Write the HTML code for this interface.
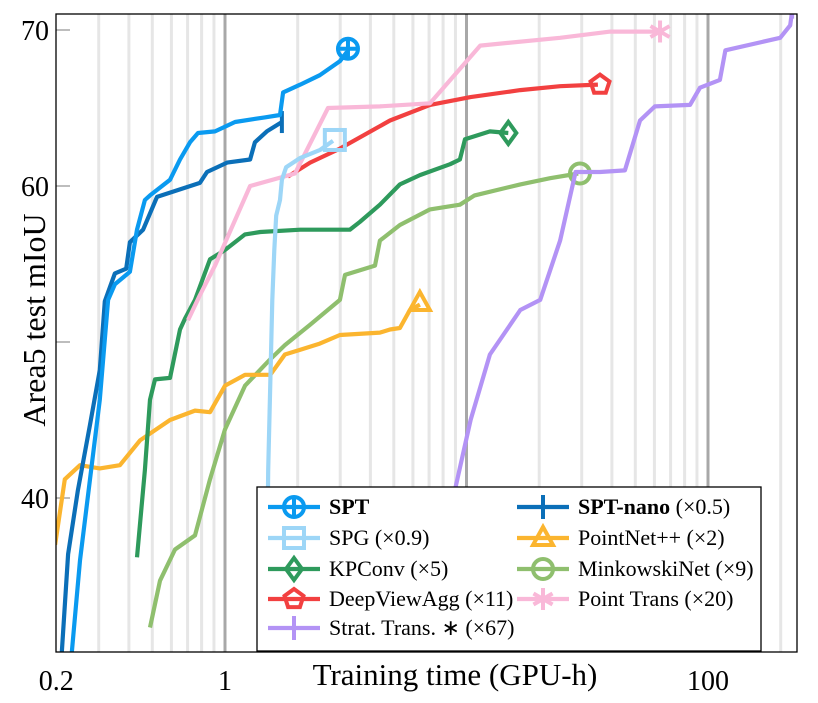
<!DOCTYPE html>
<html><head><meta charset="utf-8"><style>
html,body{margin:0;padding:0;background:#fff;}
svg{display:block;font-family:"Liberation Serif",serif;}
</style></head><body>
<svg id="chart" width="818" height="703" viewBox="0 0 818 703" xmlns="http://www.w3.org/2000/svg">
<defs><clipPath id="plotclip"><rect x="56" y="14" width="741" height="638"/></clipPath></defs>
<g id="grid"></g>
<g id="series" clip-path="url(#plotclip)"></g>
<rect x="56" y="14" width="741" height="638" fill="none" stroke="#000" stroke-width="1.3"/>
<g id="ticks"></g>
<text x="455" y="685" font-size="31" text-anchor="middle">Training time (GPU-h)</text>
<text transform="translate(45,320) rotate(-90)" font-size="32" text-anchor="middle">Area5 test mIoU</text>
<g id="legend"></g>
</svg>
<script>
const xTicks=[0.2,1,100];
const xTickLabels=["0.2","1","100"];
const yTicks=[70,60,40];
const yTickLabels=["70","60","40"];
const seriesNames=["SPT","SPT-nano","SPG","KPConv","DeepViewAgg","PointNet++","MinkowskiNet","Point Trans","Strat. Trans."];
const sptX=[0.232,0.251,0.276,0.303,0.328,0.350,0.404,0.432,0.466,0.489,0.592,0.651,0.716,0.773,0.909,1.10,1.46,1.69,1.74,2.05,2.47,2.99,3.20];
const sptY=[30.1,36.0,41.2,46.3,52.7,53.7,54.5,57.2,59.1,59.4,60.4,61.7,62.8,63.4,63.5,64.1,64.4,64.55,66.0,66.5,67.1,68.0,68.6];
const nanoX=[0.211,0.224,0.246,0.276,0.303,0.318,0.350,0.390,0.404,0.458,0.523,0.787,0.842,1.02,1.27,1.33,1.49,1.72];
const nanoY=[30.1,36.4,40.5,44.7,48.2,52.6,54.4,54.7,56.4,57.2,59.3,60.2,60.9,61.5,61.7,62.8,63.5,64.1];
const spgX=[1.48,1.51,1.57,1.60,1.63,1.69,1.72,1.79,2.05,2.47,2.80];
const spgY=[30.1,41.8,52.7,55.9,58.1,59.1,60.4,61.2,61.8,62.3,62.9];
const kpX=[0.432,0.466,0.489,0.513,0.592,0.651,0.683,0.751,0.867,1,1.21,1.40,2.05,3.29,3.62,4.38,5.30,6.41,8.55,9.39,9.86,12.5,14.9];
const kpY=[36.2,41.8,46.3,47.6,47.7,50.8,51.5,52.7,55.3,55.9,56.9,57.05,57.2,57.2,57.7,58.8,60.1,60.7,61.4,61.7,63.0,63.5,63.4];
const dvaX=[1.82,2.25,2.99,4.82,7.06,10.4,16.7,24.4,35.0];
const dvaY=[60.6,61.5,62.4,64.2,65.2,65.7,66.15,66.4,66.5];
const pnX=[0.198,0.217,0.251,0.303,0.367,0.445,0.592,0.751,0.867,1,1.21,1.54,1.77,2.05,2.47,2.99,4.38,4.82,5.30,5.83,6.41];
const pnY=[37.0,41.2,42.1,41.9,42.1,43.7,45.0,45.6,45.5,47.2,47.9,47.9,49.2,49.5,49.9,50.45,50.6,50.8,50.9,52.05,52.4];
const mkX=[0.489,0.538,0.621,0.751,0.867,1,1.21,1.54,1.77,2.25,2.99,3.14,4.18,4.38,5.30,7.06,9.39,10.8,16.7,22.2,29.0];
const mkY=[31.7,34.7,36.7,37.6,41.2,44.4,47.2,48.9,49.8,51.1,52.7,54.3,54.9,56.5,57.5,58.5,58.8,59.4,60.1,60.5,60.8];
const ptX=[0.703,0.787,0.909,1.27,1.95,2.67,4.38,7.06,11.4,24.4,39.4,63.3];
const ptY=[51.4,53.0,54.9,60.0,60.8,65.0,65.1,65.3,69.0,69.5,69.9,69.9];
const stX=[7.76,8.95,10.4,12.5,16.7,20.2,24.4,28.3,35.7,45.3,52.3,60.3,84.2,92.7,112,118,199,219,223];
const stY=[30.1,40.5,45.0,49.2,52.05,52.7,56.5,60.9,60.9,61.0,64.2,65.1,65.2,66.3,66.8,68.7,69.5,70.3,71.2];

const NS="http://www.w3.org/2000/svg";
const X0=225, DEC=241.5;
const sx=v=>X0+Math.log10(v)*DEC;
const sy=v=>30+(70-v)*15.6;
function mk(t,a,p){const e=document.createElementNS(NS,t);for(const k in a)e.setAttribute(k,a[k]);p.appendChild(e);return e;}

const grid=document.getElementById('grid');
for(let d=-1;d<=2;d++){for(let m=1;m<=9;m++){const v=m*Math.pow(10,d);const x=sx(v);if(x<57||x>796)continue;
 const major=m===1;
 const l=mk('line',{x1:x,x2:x,y1:14,y2:652,stroke:major?'#a8a8a8':'#e6e6e6','stroke-width':3},grid);
 
 }}
[70,60,50,40].forEach(v=>{const t=mk('line',{x1:56,x2:70,y1:sy(v),y2:sy(v),stroke:'#999','stroke-width':1.3},grid);
 
 });

const ticks=document.getElementById('ticks');
xTicks.forEach((v,i)=>{const t=mk('text',{x:sx(v),y:690,'font-size':28,'text-anchor':'middle'},ticks);t.textContent=xTickLabels[i];
 
 });
yTicks.forEach((v,i)=>{const t=mk('text',{x:49,y:sy(v)+10,'font-size':28,'text-anchor':'end'},ticks);t.textContent=yTickLabels[i];
 
 });

function marker(g,type,cx,cy,c){
 if(type==='oplus'){mk('circle',{cx,cy,r:10,fill:'none',stroke:c,'stroke-width':4},g);mk('path',{d:`M${cx-10} ${cy}H${cx+10}M${cx} ${cy-10}V${cy+10}`,stroke:c,'stroke-width':4},g);}
 if(type==='plus'){mk('path',{d:`M${cx-11} ${cy}H${cx+11}M${cx} ${cy-12}V${cy+12}`,stroke:c,'stroke-width':4},g);}
 if(type==='vbar'){mk('path',{d:`M${cx} ${cy-11}V${cy+11}`,stroke:c,'stroke-width':4},g);}
 if(type==='square'){mk('rect',{x:cx-10,y:cy-10,width:20,height:20,fill:'none',stroke:c,'stroke-width':4},g);}
 if(type==='diamond'){mk('path',{d:`M${cx} ${cy-11}L${cx+8} ${cy}L${cx} ${cy+11}L${cx-8} ${cy}Z`,fill:'none',stroke:c,'stroke-width':4},g);}
 if(type==='pent'){const p=[];for(let i=0;i<5;i++){const a=-Math.PI/2+i*2*Math.PI/5;p.push((cx+10*Math.cos(a)).toFixed(1)+','+(cy+10*Math.sin(a)).toFixed(1));}mk('polygon',{points:p.join(' '),fill:'none',stroke:c,'stroke-width':4},g);}
 if(type==='tri'){mk('polygon',{points:`${cx},${cy-11} ${cx+10},${cy+7} ${cx-10},${cy+7}`,fill:'none',stroke:c,'stroke-width':4},g);}
 if(type==='circle'){mk('circle',{cx,cy,r:10,fill:'none',stroke:c,'stroke-width':4},g);}
 if(type==='star'){let d='';for(let i=0;i<3;i++){const a=Math.PI/2+i*Math.PI/3;d+=`M${cx-11*Math.cos(a)} ${cy-11*Math.sin(a)}L${cx+11*Math.cos(a)} ${cy+11*Math.sin(a)}`;}mk('path',{d,stroke:c,'stroke-width':4},g);}
}
const defs=[
 {n:'spt',xs:sptX,ys:sptY,c:'#0a9af0',m:'oplus',mx:3.23,my:68.8},
 {n:'spt-nano',xs:nanoX,ys:nanoY,c:'#0b6fb8',m:'vbar',lm:'plus',mx:1.72,my:64.1},
 {n:'spg',xs:spgX,ys:spgY,c:'#9dd6f7',m:'square',mx:2.85,my:62.95},
 {n:'kpconv',xs:kpX,ys:kpY,c:'#2e9a5c',m:'diamond',mx:14.9,my:63.4},
 {n:'deepviewagg',xs:dvaX,ys:dvaY,c:'#f24040',m:'pent',mx:35.7,my:66.5},
 {n:'pointnet',xs:pnX,ys:pnY,c:'#fbb52f',m:'tri',mx:6.41,my:52.5},
 {n:'minkowskinet',xs:mkX,ys:mkY,c:'#8fbf6e',m:'circle',mx:29.5,my:60.8},
 {n:'point-trans',xs:ptX,ys:ptY,c:'#f9b8d8',m:'star',mx:63.3,my:69.9},
 {n:'strat-trans',xs:stX,ys:stY,c:'#b393f5',m:'plus',mx:223,my:71.5}
];
const order=[6,5,4,3,7,8,2,1,0];
const sg=document.getElementById('series');
order.forEach(i=>{const s=defs[i];
 const g=mk('g',{},sg);
 
 
 const pts=s.xs.map((x,j)=>sx(x).toFixed(1)+','+sy(s.ys[j]).toFixed(1)).join(' ');
 const pl=mk('polyline',{points:pts,fill:'none',stroke:s.c,'stroke-width':4.2,'stroke-linejoin':'round'},g);
 
 
 marker(g,s.m,sx(s.mx),sy(s.my),s.c);
});

const lg=document.getElementById('legend');
mk('rect',{x:257,y:487,width:504,height:164,fill:'#fff',stroke:'#000','stroke-width':1.3},lg);
const labels=[
 [0,'<tspan font-weight="bold">SPT</tspan>',0,507],[1,'<tspan font-weight="bold">SPT-nano</tspan> (×0.5)',1,507],
 [2,'SPG (×0.9)',0,538],[5,'PointNet++ (×2)',1,538],
 [3,'KPConv (×5)',0,569],[6,'MinkowskiNet (×9)',1,569],
 [4,'DeepViewAgg (×11)',0,599],[7,'Point Trans (×20)',1,599],
 [8,'Strat. Trans. ∗ (×67)',0,628]];
labels.forEach(([i,txt,col,y])=>{const s=defs[i];
 const g=mk('g',{},lg);
 
 
 const x0=col?517:268;
 mk('line',{x1:x0,x2:x0+52,y1:y,y2:y,stroke:s.c,'stroke-width':4.2},g);
 marker(g,s.lm||s.m,x0+26,y,s.c);
 const t=mk('text',{x:x0+61,y:y+7,'font-size':22},g);t.innerHTML=txt;
});
</script>
</body></html>
